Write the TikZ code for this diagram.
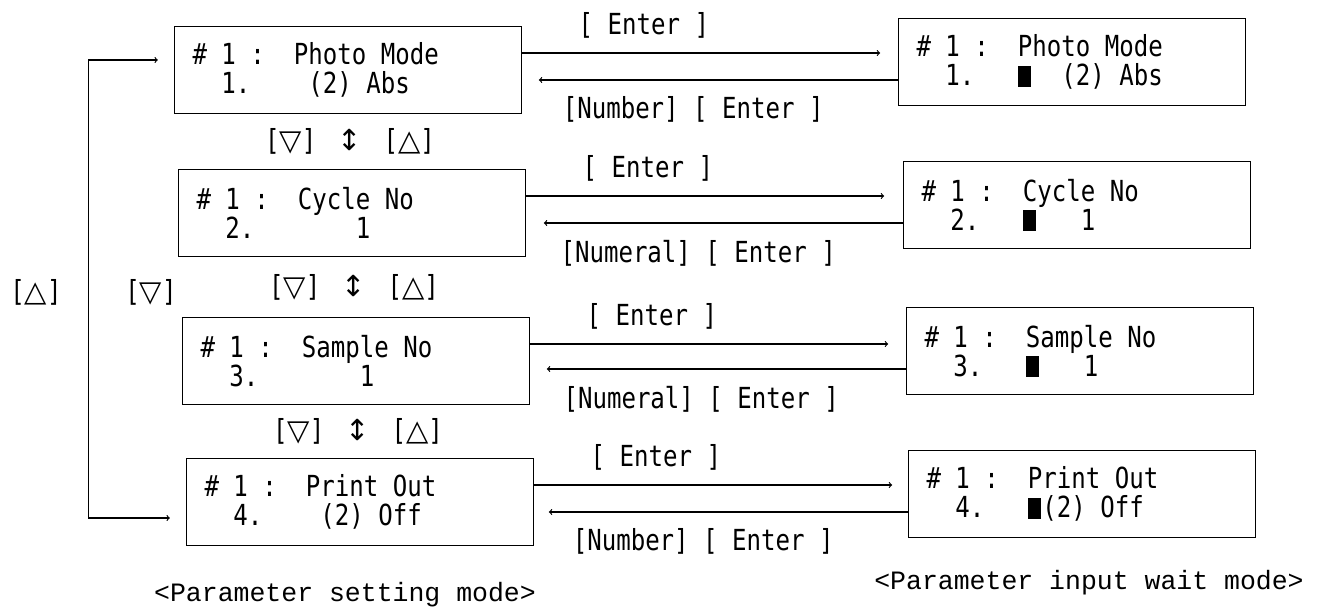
\documentclass[tikz,border=0pt]{standalone}
\usepackage{fontspec}
\usepackage{tikz}
\usetikzlibrary{positioning, arrows}
\newfontfamily\lcdfont[FakeStretch=0.83]{DejaVu Sans Mono}
\newfontfamily\symfont{DejaVu Sans}
\newfontfamily\capfont{Liberation Mono}
\newlength{\cellwd}
\newcommand{\lcd}{\lcdfont\fontsize{29}{29}\selectfont\settowidth{\cellwd}{0}\def~{\hspace*{\cellwd}}}
\newcommand{\cursorbox}{\makebox[\cellwd][l]{\rule[-1pt]{13pt}{21pt}}}
\newcommand{\keydn}{{\symfont ▽}}
\newcommand{\keyup}{{\symfont △}}
\newcommand{\keyupdn}{\hspace*{7pt}{\symfont ↕}\hspace*{7pt}}

\begin{document}
\begin{tikzpicture}[x=1pt, y=-1pt]
	\tikzstyle{screen} = [draw, rectangle, line width=1.3pt, text width=311pt, inner xsep=18pt, minimum height=87pt, align=left, font={\lcd}];
	\tikzstyle{key} = [font={\lcd}];
	\tikzstyle{point} = [->, line width=1.2pt];
	\tikzstyle{caption} = [font={\capfont\fontsize{26.5}{28}\selectfont}];

	\useasboundingbox (0,0) rectangle (1319,609);

	% parameter setting mode
	\node[screen] (set1) at (348,70) {\#~1~:~~Photo~Mode\\~~1.~~~~(2)~Abs};
	\node[screen] (set2) at (352,213) {\#~1~:~~Cycle~No\\~~2.~~~~~~~1};
	\node[screen] (set3) at (356,361) {\#~1~:~~Sample~No\\~~3.~~~~~~~1};
	\node[screen] (set4) at (360,502) {\#~1~:~~Print~Out\\~~4.~~~~(2)~Off};

	% parameter input wait mode
	\node[screen] (wait1) at (1072,62) {\#~1~:~~Photo~Mode\\~~1.~~~\cursorbox~~(2)~Abs};
	\node[screen] (wait2) at (1077,205) {\#~1~:~~Cycle~No\\~~2.~~~\cursorbox~~~1};
	\node[screen] (wait3) at (1080,351) {\#~1~:~~Sample~No\\~~3.~~~\cursorbox~~~1};
	\node[screen] (wait4) at (1082,494) {\#~1~:~~Print~Out\\~~4.~~~\cursorbox(2)~Off};

	\foreach \i/\num in {1/Number, 2/Numeral, 3/Numeral, 4/Number} {
		\draw[point] ([yshift=17pt]set\i.east) -- node[key, above=11pt, pos=0.34]{[~Enter~]} +(358,0);
		\draw[point] ([yshift=-18pt]wait\i.west) -- node[key, below=13pt, pos=0.57]{[\num]~[~Enter~]} +(-359,0);
	}

	\foreach \i/\j in {1/2, 2/3, 3/4}
		\path (set\i) -- node[key] (updn\i) {[\keydn]~\keyupdn~[\keyup]} (set\j);

	% loop from first to last item
	\draw[point, <->] ([xshift=-16pt, yshift=10pt]set1.west) -- ++(-69,0) |- ([xshift=-16pt, yshift=-16pt]set4.west);
	\node[key] (loopup) at (36,292) {[\keyup]};
	\node[key] (loopdn) at (151,292) {[\keydn]};

	\node[caption] (setmode) at (345,595) {<Parameter setting mode>};
	\node[caption] (waitmode) at (1089,583) {<Parameter input wait mode>};
\end{tikzpicture}
\end{document}
